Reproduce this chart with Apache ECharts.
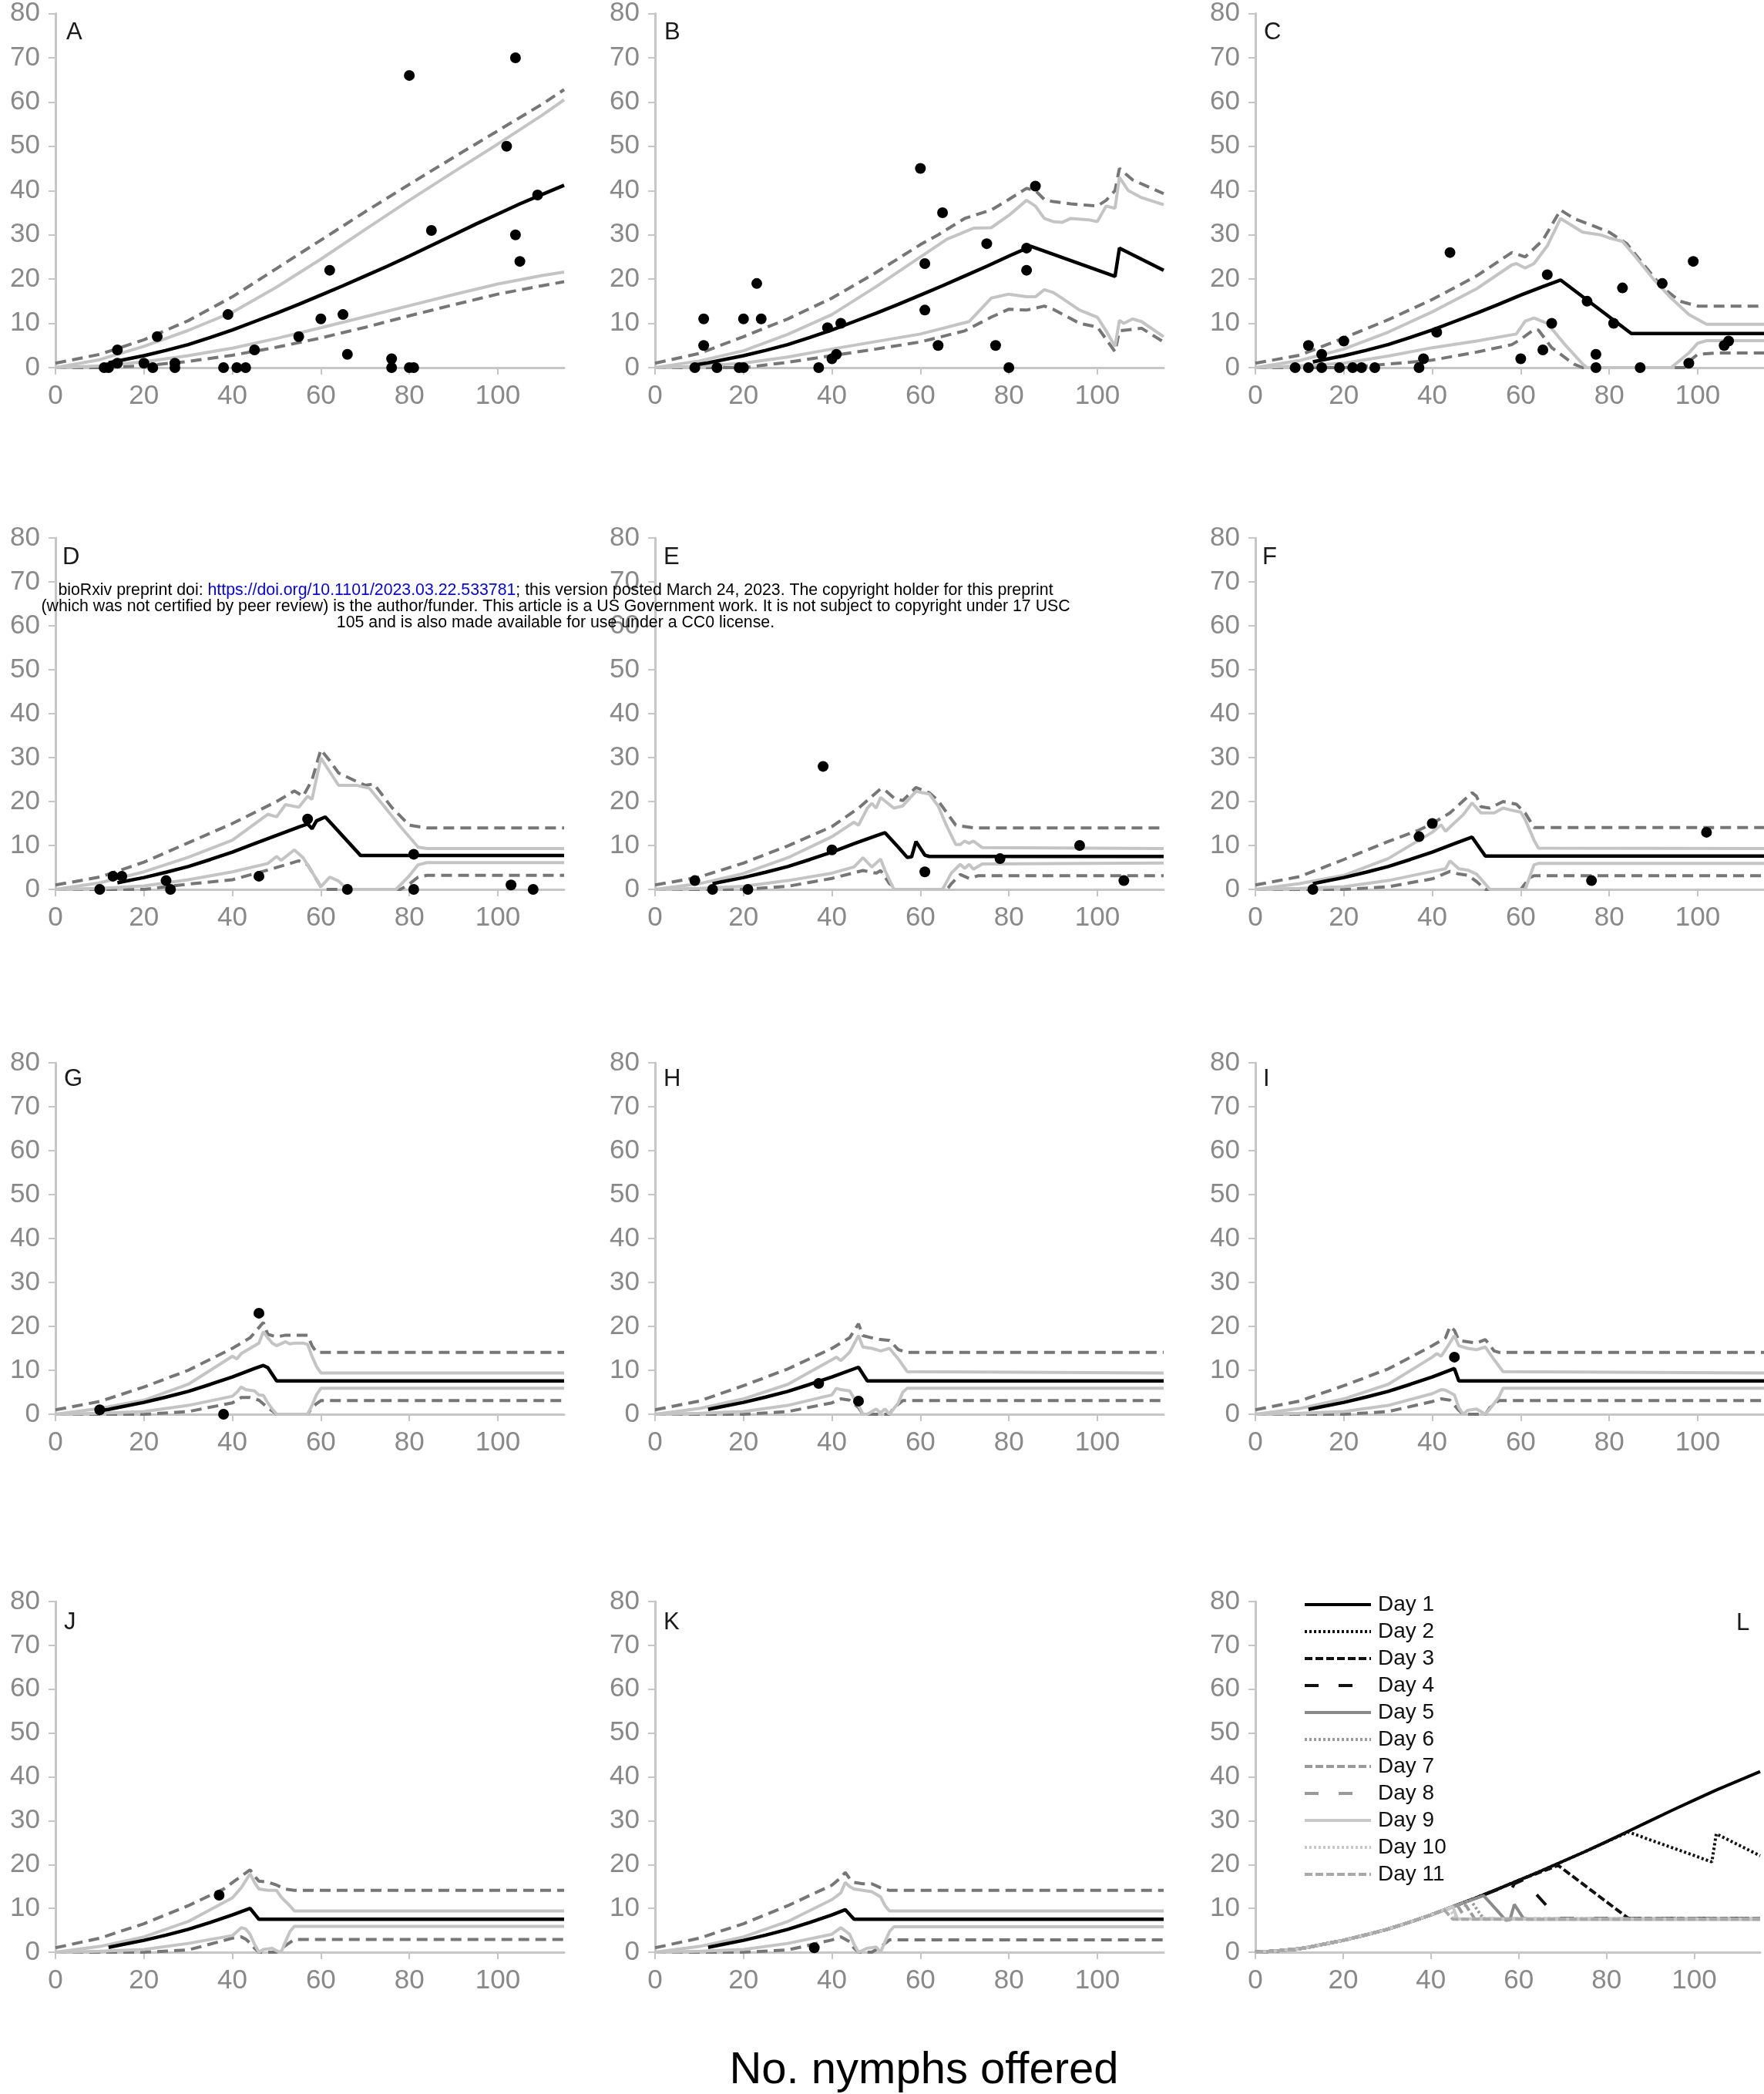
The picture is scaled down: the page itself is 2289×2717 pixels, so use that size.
<!DOCTYPE html>
<html><head><meta charset="utf-8">
<script src="https://cdn.jsdelivr.net/npm/echarts@6/dist/echarts.min.js"></script>
<style>html,body{margin:0;padding:0;background:#fff}#c{width:2289px;height:2717px}</style>
</head><body><div id="c"></div>
<script>
// ---------------- DATA ----------------
const xTickValues = [0, 20, 40, 60, 80, 100];
const panelNames = ['A','B','C','D','E','F','G','H','I','J','K','L'];
const legendNames = ['Day 1','Day 2','Day 3','Day 4','Day 5','Day 6','Day 7','Day 8','Day 9','Day 10','Day 11'];

// Model (black) lines
const A_model = [[12,1.1],[15,1.7],[20,2.7],[25,3.9],[30,5.2],[35,6.8],[40,8.5],[45,10.4],[50,12.3],[55,14.3],[60,16.4],[65,18.5],[70,20.7],[75,22.9],[80,25.2],[85,27.6],[90,30],[95,32.4],[100,34.7],[105,37],[110,39.1],[115,41.2]];
const B_model = [[9,0.6],[12,1.1],[15,1.7],[20,2.7],[25,3.9],[30,5.2],[35,6.8],[40,8.5],[45,10.4],[50,12.3],[55,14.3],[60,16.4],[65,18.5],[70,20.7],[75,22.9],[80,25.2],[85,27.4],[104,20.6],[105,27],[115,22]];
const C_model = [[13,1.3],[15,1.7],[20,2.7],[25,3.9],[30,5.2],[35,6.8],[40,8.5],[45,10.4],[50,12.3],[55,14.3],[60,16.4],[65,18.3],[69,19.8],[85,7.7],[115,7.7]];
const D_model = [[14,1.5],[15,1.7],[20,2.7],[25,3.9],[30,5.2],[35,6.8],[40,8.5],[45,10.4],[50,12.3],[55,14.2],[57,14.9],[58,13.8],[59,15.6],[61,16.5],[69,7.7],[115,7.7]];
const E_model = [[13,1.3],[15,1.7],[20,2.7],[25,3.9],[30,5.2],[35,6.8],[40,8.5],[45,10.4],[50,12.2],[52,12.9],[55,9.6],[57,7.3],[58,7.4],[59,10.9],[61,7.8],[62,7.5],[115,7.5]];
const F_model = [[13,1.3],[15,1.7],[20,2.7],[25,3.9],[30,5.2],[35,6.8],[40,8.5],[45,10.4],[49,11.9],[52,7.6],[115,7.6]];
const G_model = [[10,0.8],[12,1.1],[15,1.7],[20,2.7],[25,3.9],[30,5.2],[35,6.8],[40,8.5],[45,10.4],[47,11.1],[48,10.6],[50,7.6],[115,7.6]];
const H_model = [[12,1.1],[15,1.7],[20,2.7],[25,3.9],[30,5.2],[35,6.8],[40,8.5],[46,10.7],[48,7.6],[115,7.6]];
const I_model = [[12,1.1],[15,1.7],[20,2.7],[25,3.9],[30,5.2],[35,6.8],[40,8.5],[45,10.4],[46,7.6],[115,7.6]];
const J_model = [[12,1.1],[15,1.7],[20,2.7],[25,3.9],[30,5.2],[35,6.8],[40,8.5],[44,10],[46,7.5],[115,7.5]];
const K_model = [[12,1.1],[15,1.7],[20,2.7],[25,3.9],[30,5.2],[35,6.8],[40,8.5],[43,9.7],[45,7.5],[115,7.5]];
// start of the curves in panel L (below x = 12)
const L_start = [[0,0],[5,0.3],[10,0.8]];

// Light grey solid bands (upper / lower)
const A_U = [[0,0],[10,1.8],[20,4.8],[30,8.4],[40,12.5],[50,18.2],[60,24.5],[70,31.2],[80,37.8],[90,44.2],[100,50.5],[110,57],[115,60.5]];
const A_L = [[0,0],[10,0.4],[20,1.3],[30,2.7],[40,4.4],[50,6.6],[60,9],[70,11.5],[80,14],[90,16.5],[100,18.9],[110,20.8],[115,21.6]];
const B_U = [[0,0],[10,1.5],[20,3.8],[30,7.5],[40,12],[50,18.3],[60,25],[66,29],[72,31.5],[76,31.6],[80,34.4],[84,37.8],[86,36.5],[88,33.7],[90,33],[92,32.8],[94,33.7],[98,33.4],[100,33],[102,36.5],[104,36],[105,43],[107,40],[110,38.4],[115,36.8]];
const B_L = [[0,0],[10,0.3],[20,1],[30,2.4],[40,4.2],[50,5.9],[60,7.6],[71,10.4],[76,15.7],[80,16.6],[84,16],[86,16],[88,17.6],[90,17],[92,15.7],[96,13],[100,11.4],[102,8.3],[104,4.8],[105,10.7],[106,10],[108,11],[110,10.4],[115,7]];
const C_U = [[0,0],[10,1.6],[20,4.2],[30,8],[40,12.6],[50,17.8],[58,23.2],[59,23.5],[61,22.5],[63,23.5],[66,27.5],[69,33.7],[74,30.6],[78,30],[80,29.3],[83,28.5],[86,25],[90,20],[94,15.7],[98,12],[102,9.8],[115,9.8]];
const C_L = [[0,0],[10,0.4],[20,1],[30,2.6],[40,4.5],[50,6],[59,7.6],[61,10.5],[63,11.2],[66,10],[70,5.2],[74,0.8],[75,0],[94,0],[98,3.3],[100,5.5],[102,6.1],[115,6.1]];
const D_U = [[0,0],[10,1.5],[20,4],[30,7.3],[40,11.2],[48,17.1],[50,16.5],[52,19.3],[55,18.7],[57,21.2],[58,20.5],[60,29.9],[62,26.8],[64,23.7],[68,23.7],[71,23],[74,19.3],[78,14.3],[82,9.6],[84,9.3],[115,9.3]];
const D_L = [[0,0],[10,0.2],[20,0.8],[30,2.2],[40,4],[48,5.9],[50,7.5],[51,6.6],[54,9],[56,7.2],[58,4],[60,0.6],[62,2.8],[64,1.9],[66,0],[77,0],[80,3.1],[82,5.6],[84,6.1],[115,6.1]];
const E_U = [[0,0],[10,1.3],[20,3.6],[30,7.2],[40,12],[45,15.3],[46,14.6],[48,18.5],[49,19.6],[50,18.5],[51,20.9],[54,18.5],[56,19],[59,22.3],[62,21.7],[64,19],[66,14.3],[68,10.2],[69,10.2],[70,11],[71,10.5],[72,11],[74,9.5],[115,9.3]];
const E_L = [[0,0],[10,0.2],[20,0.7],[30,2],[40,3.7],[45,5.1],[47,7.2],[49,5.1],[51,6.9],[52,4.3],[54,0],[65,0],[67,3.7],[69,5.7],[70,4.8],[71,5.7],[72,4.6],[74,5.8],[115,6]];
const F_U = [[0,0],[10,1.3],[20,3.2],[30,7],[40,13],[42,14.7],[43,13.2],[44,14.2],[47,17],[49,19.7],[51,17.4],[54,17.4],[56,18.5],[58,18],[60,17.6],[61,15.9],[63,11.2],[64,9.4],[115,9.3]];
const F_L = [[0,0],[10,0.2],[20,0.6],[30,2],[40,4.1],[43,4.7],[44,6.5],[46,4.7],[48,4.4],[50,3.5],[52,1.2],[53,0],[61,0],[63,5.6],[64,5.9],[115,5.9]];
const G_U = [[0,0],[10,1.3],[20,3.2],[30,6.8],[40,13.2],[41,12.6],[42,13.8],[44,15],[46,16.2],[47,18.8],[48,17.4],[49,16.2],[50,15.6],[52,16.5],[53,16],[54,16.2],[56,16.2],[57,15.9],[58,13.2],[59,10.9],[60,9.4],[115,9.4]];
const G_L = [[0,0],[10,0.2],[20,0.6],[30,2],[40,4.1],[41,5],[42,6.2],[43,5.6],[45,5.3],[46,4.4],[47,4.3],[48,2.6],[49,1.2],[50,0],[57,0],[58,2],[59,4.4],[60,5.9],[115,5.9]];
const H_U = [[0,0],[10,1.3],[20,3.5],[30,6.8],[40,12.4],[41,13],[42,12.2],[44,14.1],[46,17.9],[47,15.3],[49,15],[51,14.4],[53,15],[55,12.6],[57,9.7],[115,9.4]];
const H_L = [[0,0],[10,0.2],[20,0.6],[30,2],[40,4.4],[41,5.9],[42,5.6],[44,5.3],[46,2],[47,0],[48,0],[50,1.2],[51,0.3],[52,1.2],[53,0],[55,2.6],[56,5],[57,5.9],[115,5.9]];
const I_U = [[0,0],[10,1.3],[20,3.5],[30,6.8],[40,13],[41,13.8],[42,13.2],[43,14.7],[45,17.9],[46,15.6],[48,15],[50,14.7],[52,15.3],[54,12.4],[56,9.7],[115,9.4]];
const I_L = [[0,0],[10,0.2],[20,0.6],[30,2],[40,4.7],[42,5.6],[43,5.5],[45,4.4],[46,1.5],[47,0],[48,0.9],[50,1.2],[51,0.6],[52,0],[53,1.2],[55,3.8],[56,5.9],[115,5.9]];
const J_U = [[0,0],[10,1.3],[20,3.5],[30,7],[40,12.4],[42,14.7],[44,17.9],[45,15.9],[46,14.4],[48,14.1],[50,14.1],[51,12.6],[53,10.6],[54,9.4],[115,9.4]];
const J_L = [[0,0],[10,0.2],[20,0.6],[30,2],[40,3.8],[42,5.6],[43,5.3],[44,4.1],[45,1.8],[46,0],[47,0.6],[49,0.9],[50,0.3],[51,0],[52,2.4],[53,4.7],[54,5.9],[115,5.9]];
const K_U = [[0,0],[10,1.3],[20,3.5],[30,7],[40,12],[42,13.5],[43,15.9],[44,15],[45,14.4],[47,14.1],[49,13.8],[51,12.6],[52,10.6],[53,9.4],[115,9.4]];
const K_L = [[0,0],[10,0.2],[20,0.6],[30,2],[40,4.1],[42,5.6],[44,4.1],[45,1.8],[46,0],[48,0.9],[50,1.2],[51,0],[52,2.4],[53,4.7],[54,5.8],[115,5.8]];

// Dark grey dashed bands (upper / lower)
const A_UD = [[0,1],[10,3],[20,6.3],[30,10.6],[40,16],[50,22.4],[60,28.8],[70,35.2],[80,41.4],[90,47.5],[100,53.5],[110,59.5],[115,62.8]];
const A_LD = [[0,0],[10,0],[20,0.4],[30,1.4],[40,2.8],[50,4.6],[60,6.7],[70,9.1],[80,11.7],[90,14.2],[100,16.6],[110,18.5],[115,19.4]];
const B_UD = [[0,1],[10,3.2],[20,7],[30,11],[40,15.7],[50,21.5],[60,27.8],[64,30],[70,33.7],[76,35.6],[80,38],[84,40.5],[86,40],[88,38],[90,37.5],[94,37],[100,36.5],[102,37.8],[104,40],[105,45],[108,42.4],[115,39.3]];
const B_LD = [[0,0],[10,0],[20,0],[30,1.2],[40,2.7],[50,4.2],[60,5.8],[70,8.3],[76,11.4],[80,13.2],[84,13],[88,13.9],[90,13.2],[96,10],[100,9.2],[104,3.6],[105,8.3],[110,8.9],[115,5.8]];
const C_UD = [[0,1],[10,2.8],[20,6.7],[30,10.8],[40,15.4],[50,20.7],[58,26],[61,25],[65,28.8],[69,35.6],[72,33.7],[76,32.2],[80,30.6],[84,28],[88,23],[92,18.2],[96,15],[100,13.9],[115,13.9]];
const C_LD = [[0,0],[10,0],[20,0],[30,0.8],[37,1.4],[40,1.7],[50,3.5],[58,5.2],[60,6.4],[63,8.6],[64,8.5],[67,4.5],[72,0.8],[74,0],[97,0],[98,1.4],[100,3],[104,3.3],[115,3.3]];
const D_UD = [[0,1],[10,2.8],[20,6.2],[30,10.6],[40,15],[50,20],[54,22.4],[56,21.2],[58,24.9],[60,31.8],[62,29.3],[64,26.5],[68,24.6],[70,23.7],[72,24],[76,18.7],[80,14.6],[84,14],[115,14]];
const D_LD = [[0,0],[10,0],[20,0],[30,1.2],[40,2.2],[48,4.4],[52,5.6],[55,6.5],[57,5.6],[60,0.6],[61,0],[78,0],[80,1.2],[82,2.8],[84,3.2],[115,3.2]];
const E_UD = [[0,1],[10,2.8],[20,6],[30,9.9],[40,14.3],[46,18.5],[51,22.9],[52,22.6],[54,20.8],[56,20.2],[59,23.2],[62,22],[64,20.2],[68,14.6],[72,14],[115,14]];
const E_LD = [[0,0],[10,0],[20,0],[30,0.7],[40,2.5],[47,4.3],[50,3.7],[51,4.3],[53,1.3],[55,0],[66,0],[67,1.3],[69,3.4],[71,2.5],[73,3.1],[115,3.1]];
const F_UD = [[0,1],[10,2.9],[20,6.8],[30,10.9],[37,13.5],[40,15],[44,17.4],[49,22],[50,21.2],[51,18.8],[53,18.5],[56,20],[59,19.4],[61,17.4],[63,14.1],[115,14.1]];
const F_LD = [[0,0],[10,0],[20,0],[30,0.6],[40,2.4],[44,4.1],[46,3.5],[48,3.2],[50,1.8],[52,0],[60,0],[62,2.6],[63,3.1],[115,3.1]];
const G_UD = [[0,1],[10,2.9],[20,6.2],[30,10],[40,15],[44,17.4],[47,20.9],[48,18.2],[50,17.6],[52,18],[57,18],[58,15.6],[59,14.1],[115,14.1]];
const G_LD = [[0,0],[10,0],[20,0],[30,0.6],[40,2.6],[42,3.8],[44,3.8],[46,3.2],[48,1.5],[50,0],[57,0],[58,1.5],[59,2.4],[60,3.1],[115,3.1]];
const H_UD = [[0,1],[10,3],[20,6.5],[30,10.3],[40,15],[44,17.4],[46,20.6],[47,17.9],[49,17.4],[51,17],[53,16.8],[55,14.7],[57,14.1],[115,14.1]];
const H_LD = [[0,0],[10,0],[20,0],[30,0.6],[40,2.6],[42,3.5],[44,3.2],[46,1.5],[47,0],[53,0],[54,1.5],[56,3.1],[115,3.1]];
const I_UD = [[0,1],[10,3],[20,6.5],[30,10.3],[40,15.6],[43,17.4],[44,20],[45,19.1],[46,16.8],[48,16.5],[50,16.2],[52,17],[54,14.4],[55,14.1],[115,14.1]];
const I_LD = [[0,0],[10,0],[20,0],[30,0.6],[40,2.9],[42,3.5],[44,3.2],[46,0.9],[47,0],[52,0],[53,1.5],[55,3.1],[115,3.1]];
const J_UD = [[0,1],[10,3.2],[20,6.5],[30,10.6],[38,14.4],[40,15.9],[44,18.8],[45,17.4],[46,16.2],[48,16],[50,15.3],[52,14.4],[54,14.1],[115,14.1]];
const J_LD = [[0,0],[10,0],[20,0],[30,0.5],[40,3.2],[42,3.5],[43,3],[44,2.1],[45,0.9],[46,0],[50,0],[52,1.5],[54,2.9],[115,2.9]];
const K_UD = [[0,1],[10,3.2],[20,6.5],[30,10.6],[40,15.3],[42,17],[43,18.2],[44,16.8],[45,15.9],[47,15.6],[49,15.6],[51,14.7],[53,14.1],[115,14.1]];
const K_LD = [[0,0],[10,0],[20,0],[30,0.5],[40,2.8],[42,3.5],[44,2.4],[45,0.9],[46,0],[49,0],[51,1.2],[53,2.8],[115,2.8]];

// Observed points
const A_pts = [[11,0],[12,0],[14,4],[14,1],[20,1],[22,0],[23,7],[27,1],[27,0],[38,0],[39,12],[41,0],[43,0],[45,4],[55,7],[60,11],[62,22],[65,12],[66,3],[76,2],[76,0],[80,66],[80,0],[81,0],[85,31],[102,50],[104,70],[104,30],[105,24],[109,39]];
const B_pts = [[9,0],[11,11],[11,5],[14,0],[19,0],[20,0],[20,11],[23,19],[24,11],[37,0],[39,9],[40,2],[41,3],[42,10],[60,45],[61,23.5],[61,13],[64,5],[65,35],[75,28],[77,5],[80,0],[84,27],[84,22],[86,41]];
const C_pts = [[9,0],[12,0],[12,5],[15,0],[15,3],[19,0],[20,6],[22,0],[24,0],[27,0],[37,0],[38,2],[41,8],[44,26],[60,2],[65,4],[66,21],[67,10],[75,15],[77,3],[77,0],[81,10],[83,18],[87,0],[92,19],[98,1],[99,24],[106,5],[107,6]];
const D_pts = [[10,0],[13,3],[15,3],[25,2],[26,0],[46,3],[57,16],[66,0],[81,8],[81,0],[103,1],[108,0]];
const E_pts = [[9,2],[13,0],[21,0],[38,28],[40,9],[61,4],[78,7],[96,10],[106,2]];
const F_pts = [[13,0],[37,12],[40,15],[76,2],[102,13]];
const G_pts = [[10,1],[38,0],[46,23]];
const H_pts = [[37,7],[46,3]];
const I_pts = [[45,13]];
const J_pts = [[37,13]];
const K_pts = [[36,1]];

// ---------------- LAYOUT / STYLE ----------------
const SANS = "'Liberation Sans',Arial,sans-serif";
const colLeft = [72, 850, 1629];
const rowTop = [16, 698, 1379, 2078];
const rowH = [461, 456, 456, 455];
const plotW = 660;

const panels = [
  {m:A_model,U:A_U,L:A_L,UD:A_UD,LD:A_LD,p:A_pts},
  {m:B_model,U:B_U,L:B_L,UD:B_UD,LD:B_LD,p:B_pts},
  {m:C_model,U:C_U,L:C_L,UD:C_UD,LD:C_LD,p:C_pts},
  {m:D_model,U:D_U,L:D_L,UD:D_UD,LD:D_LD,p:D_pts},
  {m:E_model,U:E_U,L:E_L,UD:E_UD,LD:E_LD,p:E_pts},
  {m:F_model,U:F_U,L:F_L,UD:F_UD,LD:F_LD,p:F_pts},
  {m:G_model,U:G_U,L:G_L,UD:G_UD,LD:G_LD,p:G_pts},
  {m:H_model,U:H_U,L:H_L,UD:H_UD,LD:H_LD,p:H_pts},
  {m:I_model,U:I_U,L:I_L,UD:I_UD,LD:I_LD,p:I_pts},
  {m:J_model,U:J_U,L:J_L,UD:J_UD,LD:J_LD,p:J_pts},
  {m:K_model,U:K_U,L:K_L,UD:K_UD,LD:K_LD,p:K_pts}
];
const dayModels = [A_model,B_model,C_model,D_model,E_model,F_model,G_model,H_model,I_model,J_model,K_model];
const dayStyles = [
  {color:'#000000', type:'solid'},
  {color:'#111111', type:[3,3]},
  {color:'#111111', type:[10,4]},
  {color:'#111111', type:[18,26]},
  {color:'#8a8a8a', type:'solid'},
  {color:'#9a9a9a', type:[3,3]},
  {color:'#9a9a9a', type:[10,4]},
  {color:'#9a9a9a', type:[18,26]},
  {color:'#c8c8c8', type:'solid'},
  {color:'#c8c8c8', type:[3,3]},
  {color:'#a8a8a8', type:[10,4]}
];

const grids = [], xAxes = [], yAxes = [], series = [];
const axisCol = '#c6c6c6';
for (let i = 0; i < 12; i++) {
  const r = Math.floor(i / 3), c = i % 3;
  grids.push({left: colLeft[c], top: rowTop[r], width: (i === 11 ? 655 : plotW), height: rowH[r], containLabel: false});
  xAxes.push({
    type:'value', gridIndex:i, min:0, max:115,
    axisLine:{show:true, onZero:false, lineStyle:{color:axisCol, width:3}},
    axisTick:{show:true, length:9, lineStyle:{color:axisCol, width:2}, customValues:xTickValues},
    axisLabel:{color:'#898989', fontSize:35, fontFamily:SANS, margin:20, customValues:xTickValues},
    splitLine:{show:false}
  });
  yAxes.push({
    type:'value', gridIndex:i, min:0, max:80, interval:10,
    axisLine:{show:true, onZero:false, lineStyle:{color:axisCol, width:3}},
    axisTick:{show:true, length:9, lineStyle:{color:axisCol, width:2}},
    axisLabel:{color:'#898989', fontSize:35, fontFamily:SANS, margin:20},
    splitLine:{show:false}
  });
}

function line(idx, data, color, width, type, z) {
  return {type:'line', xAxisIndex:idx, yAxisIndex:idx, data:data, symbol:'none', silent:true,
          lineStyle:{color:color, width:width, type:type}, z:z};
}
panels.forEach((p, i) => {
  series.push(line(i, p.UD, '#767676', 4, [14,8], 2));
  series.push(line(i, p.LD, '#767676', 4, [14,8], 2));
  series.push(line(i, p.U, '#c4c4c4', 4, 'solid', 3));
  series.push(line(i, p.L, '#c4c4c4', 4, 'solid', 3));
  series.push(line(i, p.m, '#000000', 4.5, 'solid', 4));
  series.push({type:'scatter', xAxisIndex:i, yAxisIndex:i, data:p.p, symbol:'circle', symbolSize:14,
               itemStyle:{color:'#000', opacity:1}, silent:true, z:5});
});
dayModels.forEach((m, d) => {
  const st = dayStyles[d];
  series.push({type:'line', name:legendNames[d], xAxisIndex:11, yAxisIndex:11,
               data:L_start.concat(m), symbol:'none', silent:true,
               lineStyle:{color:st.color, width:4, type:st.type}, itemStyle:{color:st.color}, z:3});
});

const letterPos = [[86,42],[862,42],[1640,42],[81,723],[861,723],[1638,723],[83,1400],[861,1400],[1639,1400],[83,2105],[861,2105],[2253,2106]];
const graphics = panelNames.map((n, i) => ({type:'text', x:letterPos[i][0], y:letterPos[i][1], z:10,
  style:{text:n, fontSize:31, fontFamily:SANS, fill:'#1a1a1a', align:'left', verticalAlign:'middle'}}));

const watermark = [
  '{a|bioRxiv preprint doi: }{b|https://doi.org/10.1101/2023.03.22.533781}{a|; this version posted March 24, 2023. The copyright holder for this preprint}',
  '{a|(which was not certified by peer review) is the author/funder. This article is a US Government work. It is not subject to copyright under 17 USC}',
  '{a|105 and is also made available for use under a CC0 license.}'
];
const wmY = [766, 787, 808];
const WMF = 21.3;
watermark.forEach((t, i) => graphics.push({type:'text', x:721, y:wmY[i], z:20,
  style:{text:t, align:'center', verticalAlign:'middle', fontSize:WMF, fontFamily:SANS,
         rich:{a:{fill:'#000', fontSize:WMF, fontFamily:SANS}, b:{fill:'#0000ff', fontSize:WMF, fontFamily:SANS}}}}));
graphics.push({type:'text', x:1199, y:2687, z:10,
  style:{text:'No. nymphs offered', fontSize:58, fontFamily:SANS, fill:'#000', align:'center', verticalAlign:'middle'}});

const chart = echarts.init(document.getElementById('c'), null, {renderer:'canvas'});
chart.setOption({
  animation:false,
  backgroundColor:'#ffffff',
  grid:grids, xAxis:xAxes, yAxis:yAxes, series:series,
  legend:{data:legendNames, orient:'vertical', left:1686, top:2063, itemWidth:86, itemHeight:20, itemGap:7,
          selectedMode:false, itemStyle:{opacity:0}, lineStyle:{width:4},
          textStyle:{fontSize:28, fontFamily:SANS, color:'#111', padding:[0,0,0,4]}},
  graphic:graphics
});
</script></body></html>
